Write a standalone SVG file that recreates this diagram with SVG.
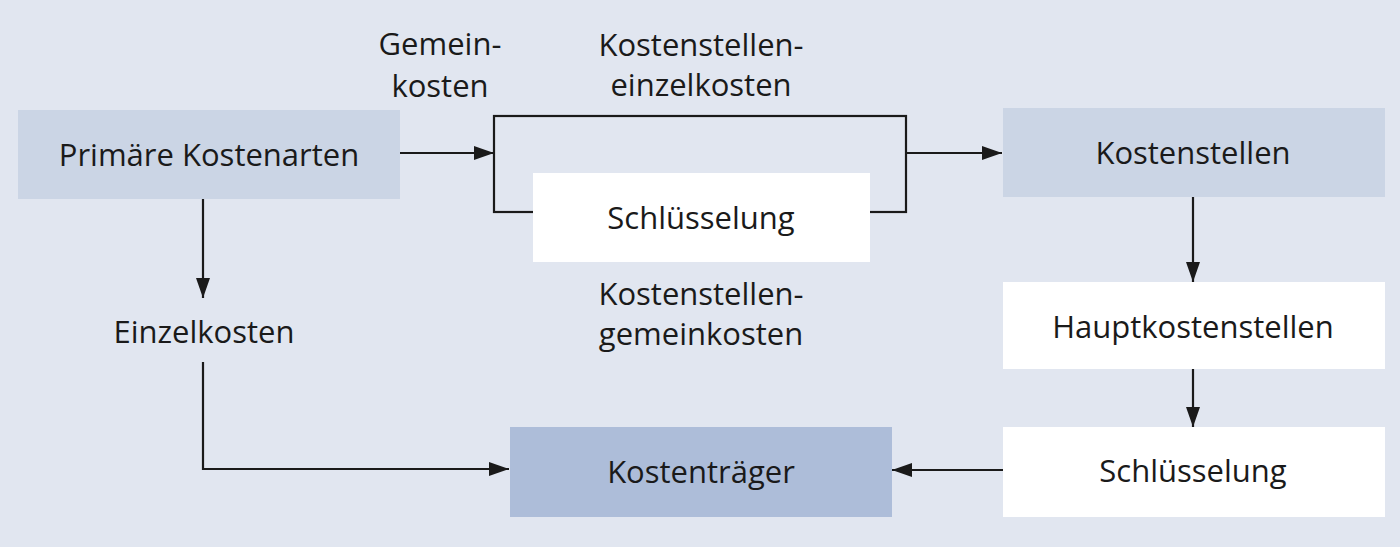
<svg xmlns="http://www.w3.org/2000/svg" width="1400" height="547" viewBox="0 0 1400 547">
<style>
text{font-family:"Open Sans","Noto Sans","Liberation Sans",sans-serif;font-size:31px;fill:#1a1a1a;text-anchor:middle}
.line{fill:none;stroke:#1a1a1a;stroke-width:2.2}
.light{fill:#cbd5e5}
.dark{fill:#adbdd9}
.white{fill:#ffffff}
</style>
<defs>
<marker id="arr" viewBox="0 0 20 14" refX="20" refY="7" markerWidth="20" markerHeight="14" markerUnits="userSpaceOnUse" orient="auto">
<path d="M0,0 L20,7 L0,14 z" fill="#1a1a1a"/>
</marker>
</defs>
<rect x="0" y="0" width="1400" height="547" fill="#e1e6f0"/>
<g id="connectors">
<path class="line" d="M400,153 H494" marker-end="url(#arr)"/>
<rect class="line" x="494" y="116" width="412" height="96"/>
<path class="line" d="M906,153 H1002" marker-end="url(#arr)"/>
<path class="line" d="M203,199 V298" marker-end="url(#arr)"/>
<path class="line" d="M203,362 V469 H509" marker-end="url(#arr)"/>
<path class="line" d="M1193,197 V282" marker-end="url(#arr)"/>
<path class="line" d="M1193,369 V427" marker-end="url(#arr)"/>
<path class="line" d="M1003,470 H892" marker-end="url(#arr)"/>
</g>
<g id="primaere-kostenarten">
<rect class="light" x="18" y="110" width="382" height="89"/>
<text x="209" y="166">Primäre Kostenarten</text>
</g>
<g id="label-gemeinkosten">
<text x="440" y="55">Gemein-</text>
<text x="440" y="97">kosten</text>
</g>
<g id="label-kostenstelleneinzelkosten">
<text x="701" y="56">Kostenstellen-</text>
<text x="701" y="96">einzelkosten</text>
</g>
<g id="schluesselung-mitte">
<rect class="white" x="533" y="173" width="337" height="89"/>
<text x="701" y="229">Schlüsselung</text>
</g>
<g id="label-kostenstellengemeinkosten">
<text x="701" y="305">Kostenstellen-</text>
<text x="701" y="345">gemeinkosten</text>
</g>
<g id="label-einzelkosten">
<text x="204" y="343">Einzelkosten</text>
</g>
<g id="kostenstellen">
<rect class="light" x="1003" y="108" width="382" height="89"/>
<text x="1193" y="164">Kostenstellen</text>
</g>
<g id="hauptkostenstellen">
<rect class="white" x="1003" y="282" width="382" height="87"/>
<text x="1193" y="338">Hauptkostenstellen</text>
</g>
<g id="schluesselung-rechts">
<rect class="white" x="1003" y="427" width="382" height="90"/>
<text x="1193" y="482">Schlüsselung</text>
</g>
<g id="kostentraeger">
<rect class="dark" x="510" y="427" width="382" height="90"/>
<text x="701" y="483">Kostenträger</text>
</g>
</svg>
